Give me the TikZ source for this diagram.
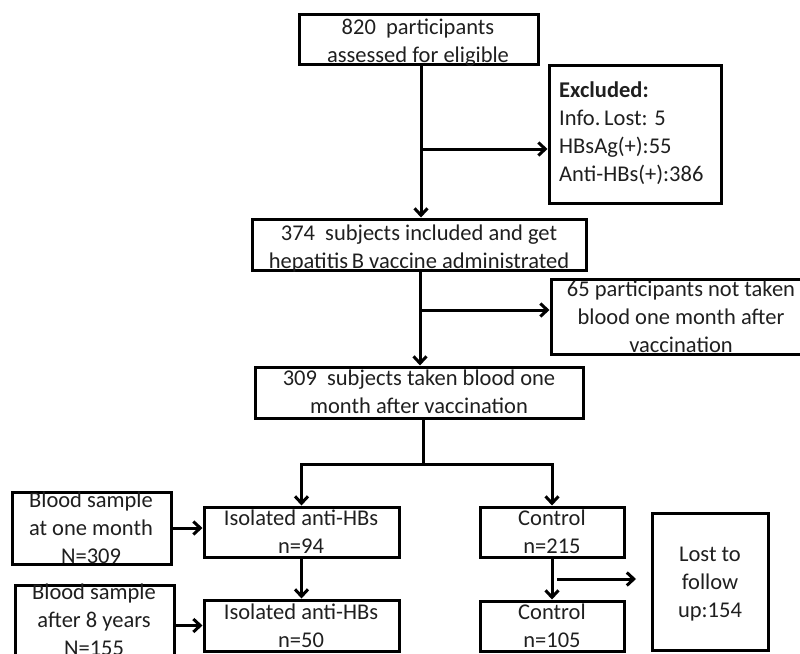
\documentclass[tikz,border=0pt]{standalone}
\usepackage{fontspec}
\setmainfont{Carlito}
\usetikzlibrary{arrows.meta,calc}
\tikzset{
  box/.style={draw, line width=3pt, inner sep=0pt},
  txt/.style={inner sep=0pt, align=center, text=black!88, font=\fontsize{22.5}{28}\selectfont},
  arr/.style={line width=3pt, -{Straight Barb[length=7pt,width=13pt]}},
  conn/.style={line width=3pt}
}
\begin{document}
\begin{tikzpicture}[x=1pt,y=-1pt]
\useasboundingbox (0,0) rectangle (800,653);
\clip (0,0) rectangle (800,653);
% boxes
\node[box, minimum width=239pt, minimum height=50pt] (b1) at (418.5,39) {};
\node[box, minimum width=172pt, minimum height=138pt] (excl) at (635,134) {};
\node[box, minimum width=334pt, minimum height=51pt] (b2) at (419,244.5) {};
\node[box, minimum width=261pt, minimum height=75pt] (b65) at (681.5,316.5) {};
\node[box, minimum width=328pt, minimum height=51pt] (b3) at (419,392.5) {};
\node[box, minimum width=159pt, minimum height=72pt] (bl1) at (91.5,528) {};
\node[box, minimum width=195pt, minimum height=50pt] (iso1) at (301.5,532) {};
\node[box, minimum width=159pt, minimum height=72pt] (bl2) at (94.5,621) {};
\node[box, minimum width=195pt, minimum height=51pt] (iso2) at (301.5,625.5) {};
\node[box, minimum width=144pt, minimum height=50pt] (c1) at (552,532) {};
\node[box, minimum width=144pt, minimum height=50pt] (c2) at (552,626) {};
\node[box, minimum width=116pt, minimum height=137pt] (lost) at (710,581.5) {};
% texts
\node[txt] (t1) at (418,42.5) {\strut 820\hspace{0.45em}participants\\\strut assessed for eligible};
\node[txt, align=left, anchor=west] (texcl) at (559,134) {\strut\textbf{Excluded:}\\\strut Info.\,Lost: 5\\\strut HBsAg(+):55\\\strut Anti-HBs(+):386};
\node[txt] (t2) at (419,249) {\strut 374\hspace{0.45em}subjects included and get\\\strut hepatitis\,B vaccine administrated};
\node[txt] (t65) at (681,319) {\strut 65 participants not taken\\\strut blood one month after\\\strut vaccination};
\node[txt] (t3) at (419,394) {\strut 309\hspace{0.45em}subjects taken blood one\\\strut month after vaccination};
\node[txt] (tbl1) at (91,529.5) {\strut Blood sample\\\strut at one month\\\strut N=309};
\node[txt] (tiso1) at (301,533.5) {\strut Isolated anti-HBs\\\strut n=94};
\node[txt] (tbl2) at (94,621.5) {\strut Blood sample\\\strut after 8 years\\\strut N=155};
\node[txt] (tiso2) at (301,627.5) {\strut Isolated anti-HBs\\\strut n=50};
\node[txt] (tc1) at (552,533.5) {\strut Control\\\strut n=215};
\node[txt] (tc2) at (552,627.5) {\strut Control\\\strut n=105};
\node[txt] (tlost) at (710,583.5) {\strut Lost to\\\strut follow\\\strut up:154};
% junctions
\coordinate (j1) at (421,149);
\coordinate (j2) at (420,310);
\coordinate (j3) at (423,464);
\coordinate (l1) at (557,579);
\coordinate (l2) at (636,579);
% connectors
\draw[arr] (b1.south -| j1) -- (b2.north -| j1);
\draw[arr] (j1) -- (excl.west |- j1);
\draw[arr] (b2.south -| j2) -- (b3.north -| j2);
\draw[arr] (j2) -- (b65.west |- j2);
\draw[conn] (b3.south -| j3) -- (j3);
\draw[arr] (j3) -| (iso1.north);
\draw[arr] (j3) -| (c1.north);
\draw[arr] (bl1.east) -- (bl1.east -| iso1.west);
\draw[arr] (iso2.west -| bl2.east) -- (iso2.west);
\draw[arr] (iso1) -- (iso2);
\draw[arr] (c1) -- (c2);
\draw[arr] (l1) -- (l2);
\end{tikzpicture}
\end{document}
